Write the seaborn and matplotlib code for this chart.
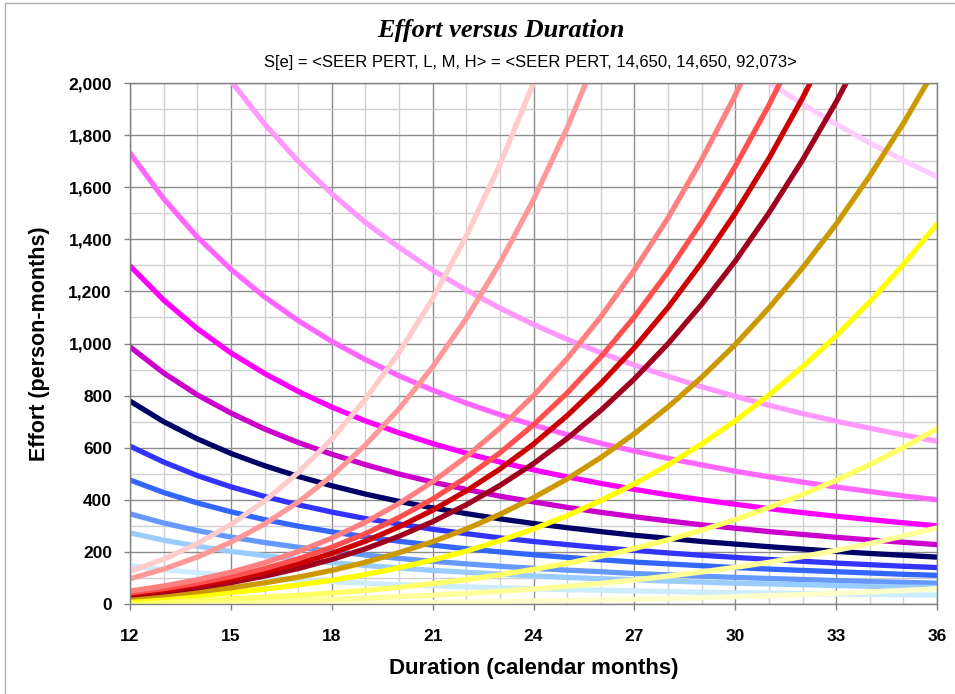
import matplotlib
matplotlib.use("Agg")
import matplotlib.pyplot as plt
from matplotlib.patches import Rectangle
from matplotlib.ticker import MultipleLocator, FuncFormatter
import seaborn as sns
import pandas as pd

# ---------------- data ----------------
# Decreasing curves (start at 12 months unless stated)
P1_start = 29
P1 = [2188, 2091, 2002, 1919, 1842, 1770, 1703, 1640]
P2 = [2704, 2431, 2202, 2008, 1843, 1700, 1575, 1465, 1369, 1282, 1205, 1136, 1073,
      1016, 965, 917, 874, 834, 797, 763, 731, 702, 675, 649, 625]
P3 = [1731, 1556, 1409, 1285, 1179, 1088, 1008, 938, 876, 821, 771, 727, 687,
      650, 617, 587, 559, 534, 510, 488, 468, 449, 432, 415, 400]
P4 = [1298, 1167, 1057, 964, 885, 816, 756, 703, 657, 616, 579, 545, 515,
      488, 463, 440, 419, 400, 383, 366, 351, 337, 324, 312, 300]
P5 = [987, 887, 803, 733, 672, 620, 575, 535, 499, 468, 440, 414, 392,
      371, 352, 335, 319, 304, 291, 278, 267, 256, 246, 237, 228]
P6 = [779, 700, 634, 578, 531, 490, 454, 422, 394, 369, 347, 327, 309,
      293, 278, 264, 252, 240, 230, 220, 211, 202, 194, 187, 180]
P7 = [606, 545, 493, 450, 413, 381, 353, 328, 307, 287, 270, 254, 240,
      228, 216, 206, 196, 187, 179, 171, 164, 157, 151, 145, 140]
P8 = [476, 428, 388, 354, 324, 299, 277, 258, 241, 226, 212, 200, 189,
      179, 170, 161, 154, 147, 140, 134, 129, 124, 119, 114, 110]
P9 = [346, 311, 282, 257, 236, 218, 202, 188, 175, 164, 154, 145, 137,
      130, 124, 117, 112, 107, 102, 98, 94, 90, 86, 83, 80]
P10 = [273, 245, 222, 202, 186, 171, 159, 148, 138, 129, 122, 115, 108,
       102, 97, 93, 88, 84, 80, 77, 74, 71, 68, 65, 63]
P11 = [147, 132, 120, 109, 100, 93, 86, 80, 74, 70, 66, 62, 58,
       55, 53, 50, 48, 45, 43, 42, 40, 38, 37, 35, 34]

# Increasing curves (all start at 12 months)
A = [125, 172, 232, 305, 395, 504, 633, 786, 965, 1172, 1412, 1687, 2000, 2355]
B = [97, 134, 180, 237, 307, 391, 491, 610, 749, 910, 1096, 1309, 1552, 1827, 2138]
C = [50, 69, 93, 122, 158, 201, 253, 314, 386, 469, 565, 675, 800, 942, 1102,
     1282, 1482, 1706, 1953, 2227]
D = [43, 59, 80, 105, 136, 173, 218, 270, 332, 403, 486, 580, 688, 810, 948,
     1102, 1275, 1467, 1680, 1915, 2174]
E = [38, 53, 71, 94, 121, 155, 194, 241, 296, 360, 434, 518, 614, 723, 846,
     984, 1138, 1310, 1500, 1710, 1942, 2196]
F = [34, 46, 62, 82, 107, 136, 171, 212, 260, 316, 381, 455, 539, 635, 743,
     864, 999, 1150, 1316, 1501, 1704, 1927, 2172]
G = [26, 35, 47, 62, 81, 103, 129, 160, 197, 239, 288, 344, 408, 480, 562,
     654, 756, 870, 996, 1136, 1290, 1458, 1643, 1845, 2066]
H = [18, 25, 33, 44, 57, 73, 91, 113, 139, 169, 203, 243, 288, 339, 397,
     461, 534, 614, 703, 802, 910, 1029, 1160, 1303, 1458]
I = [8.3, 11.4, 15.4, 20.3, 26.2, 33.4, 42.0, 52.2, 64.0, 77.8, 93.8, 112, 133,
     156, 183, 213, 246, 283, 324, 370, 420, 475, 535, 601, 672]
J = [3.6, 5.0, 6.7, 8.8, 11.4, 14.5, 18.2, 22.6, 27.8, 33.8, 40.7, 48.6, 57.6,
     67.8, 79.3, 92.3, 107, 123, 141, 160, 182, 206, 232, 261, 292]
K = [0.7, 1.0, 1.3, 1.8, 2.3, 2.9, 3.6, 4.5, 5.6, 6.8, 8.1, 9.7, 11.5,
     13.6, 15.9, 18.5, 21.3, 24.6, 28.1, 32.1, 36.4, 41.2, 46.4, 52.1, 58.3]

series = [
    ("P1", P1_start, P1, "#FFCCFF"),
    ("P2", 12, P2, "#FF99FF"),
    ("P3", 12, P3, "#FF66FF"),
    ("P4", 12, P4, "#FF00FF"),
    ("P5", 12, P5, "#CC00CC"),
    ("P6", 12, P6, "#000066"),
    ("P7", 12, P7, "#3333FF"),
    ("P8", 12, P8, "#3366FF"),
    ("P9", 12, P9, "#6699FF"),
    ("P10", 12, P10, "#99CCFF"),
    ("P11", 12, P11, "#CCECFF"),
    ("K", 12, K, "#FFFFCC"),
    ("J", 12, J, "#FFFF99"),
    ("I", 12, I, "#FFFF66"),
    ("H", 12, H, "#FFFF00"),
    ("G", 12, G, "#CC9900"),
    ("F", 12, F, "#A00020"),
    ("E", 12, E, "#CC0000"),
    ("D", 12, D, "#FF5050"),
    ("C", 12, C, "#FF8080"),
    ("B", 12, B, "#FF9999"),
    ("A", 12, A, "#FFCCCC"),
]

x_ticks = [12, 15, 18, 21, 24, 27, 30, 33, 36]

rows = []
for name, start, vals, _ in series:
    for i, v in enumerate(vals):
        rows.append({"series": name, "month": start + i, "effort": v})
df = pd.DataFrame(rows)
palette = {name: col for name, _, _, col in series}
order = [name for name, _, _, _ in series]

# ---------------- figure ----------------
sns.set_style("white")
plt.rcParams["font.family"] = ["Liberation Sans", "DejaVu Sans"]
plt.rcParams["text.color"] = "black"
plt.rcParams["axes.labelcolor"] = "black"
plt.rcParams["xtick.color"] = "black"
plt.rcParams["ytick.color"] = "black"

fig = plt.figure(figsize=(9.55, 6.94), dpi=100)
ax = fig.add_axes([130 / 955, 1 - 604 / 694, (937 - 130) / 955, (604 - 83) / 694])

sns.lineplot(data=df, x="month", y="effort", hue="series", hue_order=order,
             palette=palette, estimator=None, errorbar=None, linewidth=3.8,
             legend=False, ax=ax)

ax.set_xlim(12, 36)
ax.set_ylim(0, 2000)
ax.xaxis.set_major_locator(MultipleLocator(3))
ax.xaxis.set_minor_locator(MultipleLocator(1))
ax.yaxis.set_major_locator(MultipleLocator(200))
ax.yaxis.set_minor_locator(MultipleLocator(100))
ax.set_xticks(x_ticks)
ax.yaxis.set_major_formatter(FuncFormatter(lambda v, p: f"{int(v):,}"))

ax.grid(which="major", color="#8c8c8c", linewidth=1.0, zorder=0)
ax.grid(which="minor", color="#cfcfcf", linewidth=1.0, zorder=0)
ax.set_axisbelow(True)
for s in ax.spines.values():
    s.set_color("#808080")
    s.set_linewidth(1.0)

ax.tick_params(axis="both", which="major", direction="out", length=4, width=1,
               color="#808080", labelcolor="black", bottom=True, left=True)
ax.tick_params(axis="x", which="major", pad=14)
ax.tick_params(axis="y", which="major", pad=9)
ax.tick_params(which="minor", length=0)
for lab in ax.get_xticklabels() + ax.get_yticklabels():
    lab.set_fontweight("bold")
    lab.set_fontsize(12.5)

ax.set_xlabel("Duration (calendar months)", fontsize=16, fontweight="bold",
              labelpad=10, color="black")
ax.set_ylabel("Effort (person-months)", fontsize=15.5, fontweight="bold",
              labelpad=13, color="black")

fig.text(501 / 955, 1 - 31 / 694, "Effort versus Duration", ha="center", va="center",
         fontsize=19, fontweight="bold", fontstyle="italic", color="black",
         family=["Liberation Serif", "DejaVu Serif"])
fig.text(530 / 955, 1 - 62 / 694,
         "S[e] = <SEER PERT, L, M, H> = <SEER PERT, 14,650, 14,650, 92,073>",
         ha="center", va="center", fontsize=12, color="black")

fig.patches.append(Rectangle((5 / 955, -0.02), 1.02, 1 - 3 / 694 + 0.02,
                             transform=fig.transFigure, fill=False,
                             edgecolor="#b0b0b0", linewidth=1.0))

fig.savefig("out.png", dpi=100, facecolor="white")
